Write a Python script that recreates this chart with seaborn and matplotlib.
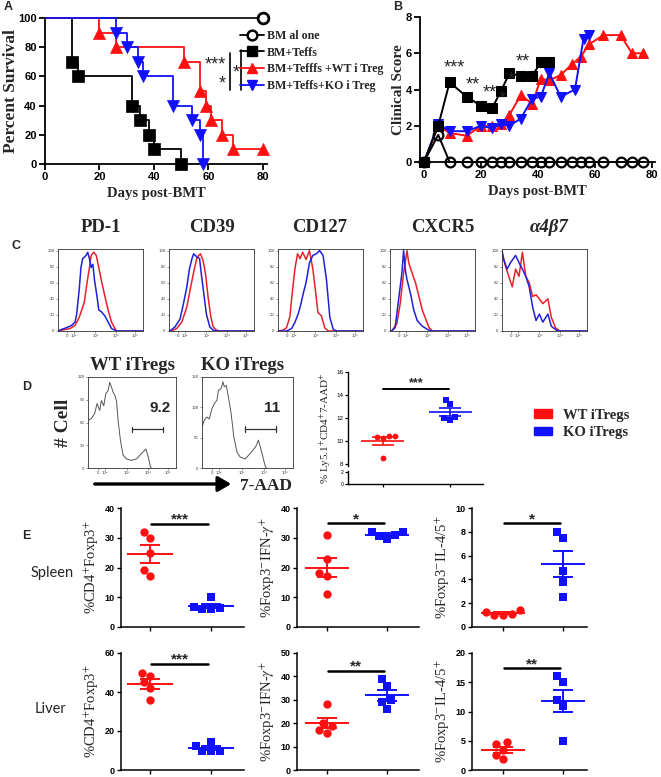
import numpy as np
import pandas as pd
import matplotlib
matplotlib.use('Agg')
import matplotlib.pyplot as plt
from matplotlib.lines import Line2D
from matplotlib.patches import Patch, FancyArrowPatch
import seaborn as sns

# ---------------- DATA ----------------
# Panel A: Kaplan-Meier survival (days, percent)
km_groups = ["BM al one", "BM+Teffs", "BM+Tefffs +WT i Treg", "BM+Teffs+KO i Treg"]
km_bm_t = [0, 80]
km_bm_s = [100, 100]
km_teff_t = [0, 10, 12, 32, 35, 38, 40, 50]
km_teff_s = [100, 70, 60, 40, 30, 20, 10, 0]
km_wt_t = [0, 20, 26, 51, 57, 59, 61, 65, 69, 80]
km_wt_s = [100, 90, 80, 70, 50, 40, 30, 20, 10, 10]
km_ko_t = [0, 26, 30, 34, 36, 47, 54, 57, 58]
km_ko_s = [100, 90, 80, 70, 60, 40, 30, 20, 0]

# Panel B: clinical score
cs_bm_x = [0, 5, 9, 15, 20, 24, 27, 30, 34, 38, 41, 44, 48, 52, 55, 58, 63, 69, 73, 77]
cs_bm_y = [0, 1.5, 0, 0, 0, 0, 0, 0, 0, 0, 0, 0, 0, 0, 0, 0, 0, 0, 0, 0]
cs_teff_x = [0, 5, 9, 15, 20, 24, 27, 30, 34, 38, 41, 44]
cs_teff_y = [0, 2.0, 4.4, 3.6, 3.1, 3.0, 3.9, 4.9, 4.75, 4.75, 5.5, 5.5]
cs_wt_x = [0, 5, 9, 15, 20, 24, 27, 30, 34, 38, 41, 44, 48, 52, 55, 58, 63, 69, 73, 77]
cs_wt_y = [0, 2.0, 1.6, 1.45, 2.0, 2.0, 2.1, 2.6, 3.7, 3.2, 4.6, 4.5, 4.8, 5.4, 5.8, 6.5, 7.0, 7.0, 6.0, 6.0]
cs_ko_x = [0, 5, 9, 15, 20, 24, 27, 30, 34, 38, 41, 44, 48, 53, 56, 58]
cs_ko_y = [0, 2.1, 1.7, 1.7, 2.0, 1.85, 2.1, 2.0, 2.4, 3.5, 3.6, 4.9, 3.6, 4.0, 6.8, 7.0]
b_stars = ["***", "**", "**", "*", "*", "**"]
b_star_x = [10.8, 17.2, 23.0, 27.5, 30.6, 34.7]
b_star_y = [5.2, 4.25, 3.8, 3.5, 4.5, 5.5]

# Panel C: flow histograms (relative channel 0-100, % of max)
c_markers = ["PD-1", "CD39", "CD127", "CXCR5", "α4β7"]
pd1_wt_x = [0, 4, 14, 20, 25, 31, 34, 37, 39, 42, 45, 48, 51, 55, 59, 63, 67, 69, 100]
pd1_wt_y = [0, 1, 3, 7, 17, 36, 59, 79, 94, 98, 94, 79, 63, 44, 26, 11, 3, 0, 0]
pd1_ko_x = [0, 2, 12, 16, 20, 22, 25, 27, 29, 33, 35, 37, 39, 41, 43, 46, 48, 51, 55, 59, 63, 67, 69, 100]
pd1_ko_y = [0, 1, 5, 7, 11, 21, 52, 79, 90, 94, 98, 90, 79, 83, 63, 42, 26, 24, 19, 11, 3, 1, 0, 0]
cd39_wt_x = [0, 3, 9, 15, 21, 25, 29, 33, 37, 40, 43, 46, 49, 52, 56, 60, 100]
cd39_wt_y = [0, 0, 3, 11, 30, 52, 73, 92, 96, 88, 71, 42, 19, 5, 1, 0, 0]
cd39_ko_x = [0, 2, 7, 13, 17, 21, 24, 27, 29, 33, 36, 38, 41, 44, 48, 52, 56, 100]
cd39_ko_y = [0, 1, 5, 15, 34, 55, 77, 90, 96, 92, 90, 71, 46, 21, 5, 1, 0, 0]
cd127_wt_x = [0, 6, 10, 14, 17, 20, 23, 26, 29, 33, 37, 41, 44, 47, 51, 55, 59, 100]
cd127_wt_y = [0, 1, 4, 18, 50, 78, 96, 90, 98, 89, 100, 77, 51, 23, 19, 4, 0, 0]
cd127_ko_x = [0, 10, 16, 20, 24, 27, 30, 33, 37, 41, 45, 49, 53, 57, 61, 65, 69, 100]
cd127_ko_y = [0, 0, 3, 11, 22, 34, 48, 60, 85, 94, 96, 100, 94, 64, 17, 2, 0, 0]
cxcr5_wt_x = [0, 2, 8, 12, 16, 20, 22, 26, 30, 34, 38, 42, 46, 50, 100]
cxcr5_wt_y = [0, 0, 9, 34, 72, 100, 85, 72, 60, 43, 26, 15, 4, 0, 0]
cxcr5_ko_x = [0, 2, 6, 10, 14, 16, 18, 20, 24, 28, 32, 38, 44, 48, 100]
cxcr5_ko_y = [0, 0, 4, 38, 72, 100, 76, 64, 47, 26, 13, 6, 2, 0, 0]
a4b7_wt_x = [0, 4, 8, 12, 16, 20, 24, 28, 32, 36, 40, 44, 48, 54, 58, 63, 68, 100]
a4b7_wt_y = [98, 81, 68, 55, 77, 68, 98, 68, 60, 43, 45, 40, 34, 40, 17, 4, 0, 0]
a4b7_ko_x = [0, 2, 6, 10, 16, 20, 24, 28, 32, 36, 40, 44, 48, 54, 58, 64, 68, 100]
a4b7_ko_y = [100, 89, 77, 85, 94, 85, 77, 68, 55, 30, 13, 21, 11, 21, 6, 1, 0, 0]
flow_tick_pos = [11, 19, 44, 68, 91]
flow_tick_lab = ["0", "10²", "10³", "10⁴", "10⁵"]

# Panel D: 7-AAD histograms
d_titles = ["WT iTregs", "KO iTregs"]
d_wt_x = [0, 3.8, 7.6, 10.3, 13.3, 15.2, 17.9, 20.2, 22.8, 24.7, 26.6, 28.5, 30.4, 32.3, 34.2, 36.9, 39.9, 43.7, 49.4, 55.1, 60.8, 65.8, 68.4, 71.1, 72]
d_wt_y = [63, 65, 72, 85, 76, 89, 82, 98, 102, 113, 107, 100, 96, 89, 63, 36, 17, 12, 10, 12, 19, 25, 15, 1, 0]
d_ko_x = [0, 2.6, 5.5, 8, 11, 13.5, 16.5, 18, 21, 23, 24.5, 26.7, 29, 32, 35, 38.5, 42, 47.6, 53, 59, 62, 66, 69.6, 71]
d_ko_y = [68, 79, 84, 81, 98, 106, 112, 128, 131, 142, 134, 136, 117, 90, 51, 26, 18, 15, 24, 35, 46, 24, 2, 0]
d_gate_pct = ["9.2", "11"]
# Panel D: % Ly5.1+CD4+7-AAD+
d_scatter_wt = [10.4, 10.3, 10.2, 10.4, 8.5]
d_scatter_ko = [13.6, 13.2, 12.0, 11.8, 12.1]

# Panel E
e_labels = ["%CD4$^{+}$Foxp3$^{+}$", "%Foxp3$^{-}$IFN-$\\gamma^{+}$", "%Foxp3$^{-}$IL-4/5$^{+}$"]
spl_cd4_wt = [30, 32, 25, 17, 19]
spl_cd4_ko = [10, 6, 6.2, 6.5, 6.8]
spl_ifn_wt = [31, 23, 18, 17, 11]
spl_ifn_ko = [32, 32, 31, 29.5, 30.5]
spl_il4_wt = [1.4, 1.3, 1.1, 1.0, 1.0]
spl_il4_ko = [8, 7.5, 4.7, 3.8, 2.5]
liv_cd4_wt = [50, 48, 45, 42, 36]
liv_cd4_ko = [14.5, 12.5, 10, 9.5, 9.5]
liv_ifn_wt = [28, 19, 20, 17, 16]
liv_ifn_ko = [39, 36, 30, 29, 26]
liv_il4_wt = [4.8, 4.4, 3.5, 2.6, 1.8]
liv_il4_ko = [16, 15, 12, 11, 5]
e_sig = ["***", "*", "*", "***", "**", "**"]
e_sig_y = [34.6, 34.9, 8.7, 54.4, 42.4, 17.4]
e_ymax = [40, 40, 10, 60, 50, 20]
e_ystep = [10, 10, 2, 20, 10, 5]

# ---------------- STYLE ----------------
W, H = 661, 777
sns.set_theme(style='ticks')
plt.rcParams['font.family'] = ['Liberation Sans', 'DejaVu Sans']
plt.rcParams['mathtext.fontset'] = 'stix'
plt.rcParams['axes.unicode_minus'] = False
SERIF = ['Liberation Serif', 'DejaVu Serif']
RED = '#ff1010'
BLUE = '#1010ff'
HRED = '#e8202a'
HBLUE = '#2020d8'

fig = plt.figure(figsize=(W / 100, H / 100), dpi=100)


def add_ax(l, t, r, b):
    return fig.add_axes([l / W, 1 - b / H, (r - l) / W, (b - t) / H])


def ftext(x, y, s, **kw):
    return fig.text(x / W, 1 - y / H, s, **kw)


def prism(ax, lw=1.3, size=8):
    sns.despine(ax=ax)
    for sp in ['left', 'bottom']:
        ax.spines[sp].set_linewidth(lw)
        ax.spines[sp].set_color('black')
    ax.tick_params(width=lw, length=4, labelsize=size, pad=2, colors='black')
    for lab in ax.get_xticklabels() + ax.get_yticklabels():
        lab.set_fontweight('bold')


# ---------------- PANEL A ----------------
axA = add_ax(45, 18, 267, 164)
series = [(km_teff_t, km_teff_s, 'black', 's'),
          (km_wt_t, km_wt_s, RED, '^'),
          (km_ko_t, km_ko_s, BLUE, 'v')]
sns.lineplot(x=km_bm_t, y=km_bm_s, drawstyle='steps-post', color='black', lw=1.2, ax=axA, clip_on=False)
for t, s, c, mk in series:
    sns.lineplot(x=t, y=s, drawstyle='steps-post', color=c, lw=1.3, ax=axA, clip_on=False)
    sns.scatterplot(x=t[1:], y=s[1:], marker=mk, s=75, color=c, edgecolor=c, linewidth=0.5,
                    ax=axA, clip_on=False, zorder=5)
sns.scatterplot(x=km_bm_t[1:], y=km_bm_s[1:], marker='o', s=60, facecolor='white', edgecolor='black',
                linewidth=2, ax=axA, clip_on=False, zorder=6)
axA.set(xlim=(0, 81.5), ylim=(0, 100), xticks=[0, 20, 40, 60, 80], yticks=[0, 20, 40, 60, 80, 100])
axA.set_xlabel("Days post-BMT", fontsize=10.5, fontweight='bold', family=SERIF, labelpad=3)
axA.set_ylabel("Percent Survival", fontsize=12.5, fontweight='bold', family=SERIF)
axA.yaxis.set_label_coords(-0.115, 0.5)
prism(axA)
handles = [Line2D([], [], color='black', lw=1.3, marker='o', mfc='white', mec='black', mew=1.8, ms=7),
           Line2D([], [], color='black', lw=1.3, marker='s', ms=7),
           Line2D([], [], color=RED, lw=1.3, marker='^', ms=7),
           Line2D([], [], color=BLUE, lw=1.3, marker='v', ms=7)]
axA.legend(handles, km_groups, loc='upper left', bbox_to_anchor=(0.85, 0.96), frameon=False,
           borderpad=0, handlelength=2.0, handletextpad=0.3, labelspacing=0.4,
           prop={'family': SERIF, 'weight': 'bold', 'size': 8.6})
# significance brackets
axA.plot([67.9, 67.9], [50.7, 76], color='black', lw=1.2, clip_on=False)
axA.plot([71.9, 71.9], [50.7, 78], color='black', lw=1.2, clip_on=False)
axA.text(62.4, 67.5, "***", fontsize=13, ha='center', va='center')
axA.text(70.3, 62.0, "*", fontsize=13, ha='center', va='center')
axA.text(65.0, 55.0, "*", fontsize=13, ha='center', va='center')
ftext(8, 7, "A", fontsize=9, fontweight='bold', ha='center', va='center')

# ---------------- PANEL B ----------------
axB = add_ax(420, 17, 655, 162)
sns.lineplot(x=cs_wt_x, y=cs_wt_y, color=RED, marker='^', markersize=7.5, markeredgecolor=RED, lw=1.4, ax=axB, clip_on=False)
sns.lineplot(x=cs_ko_x, y=cs_ko_y, color=BLUE, marker='v', markersize=7.5, markeredgecolor=BLUE, lw=1.4, ax=axB, clip_on=False)
sns.lineplot(x=cs_teff_x, y=cs_teff_y, color='black', marker='s', markersize=7, markeredgecolor='black', lw=1.4, ax=axB, clip_on=False)
sns.lineplot(x=cs_bm_x, y=cs_bm_y, color='black', marker='o', markersize=7, markerfacecolor='none',
             markeredgecolor='black', markeredgewidth=1.6, lw=1.4, ax=axB, clip_on=False)
axB.set(xlim=(-1.4, 81.1), ylim=(0, 8), xticks=[0, 20, 40, 60, 80], yticks=[0, 2, 4, 6, 8])
axB.set_xlabel("Days post-BMT", fontsize=10.5, fontweight='bold', family=SERIF, labelpad=3)
axB.set_ylabel("Clinical Score", fontsize=11, fontweight='bold', family=SERIF)
axB.yaxis.set_label_coords(-0.062, 0.5)
prism(axB)
for s, x, y in zip(b_stars, b_star_x, b_star_y):
    axB.text(x, y, s, fontsize=13, ha='center', va='center')
ftext(398, 7, "B", fontsize=9, fontweight='bold', ha='center', va='center')

# ---------------- PANEL C ----------------
c_data = [(pd1_wt_x, pd1_wt_y, pd1_ko_x, pd1_ko_y),
          (cd39_wt_x, cd39_wt_y, cd39_ko_x, cd39_ko_y),
          (cd127_wt_x, cd127_wt_y, cd127_ko_x, cd127_ko_y),
          (cxcr5_wt_x, cxcr5_wt_y, cxcr5_ko_x, cxcr5_ko_y),
          (a4b7_wt_x, a4b7_wt_y, a4b7_ko_x, a4b7_ko_y)]
c_left = [58, 169, 278, 390, 502]
c_title_x = [101, 212, 320, 443, 549]


def flow_axes(ax, ymax, yticks):
    ax.set(xlim=(0, 100), ylim=(0, ymax * 1.02), xticks=flow_tick_pos, yticks=yticks)
    ax.set_xticklabels(flow_tick_lab)
    ax.set_yticklabels([str(v) for v in yticks])
    ax.tick_params(labelsize=3.2, length=1.5, width=0.4, pad=1, colors='#444')
    for sp in ax.spines.values():
        sp.set_linewidth(0.6)
        sp.set_color('#333')
    ax.set_xlabel('')
    ax.set_ylabel('')


for i, (wx, wy, kx, ky) in enumerate(c_data):
    ax = add_ax(c_left[i], 249, c_left[i] + 85, 331)
    sns.lineplot(x=wx, y=wy, color=HRED, lw=1.1, ax=ax, sort=False)
    sns.lineplot(x=kx, y=ky, color=HBLUE, lw=1.1, ax=ax, sort=False)
    flow_axes(ax, 100, [0, 20, 40, 60, 80, 100])
    style = 'italic' if i == 4 else 'normal'
    ftext(c_title_x[i], 227, c_markers[i], fontsize=13.5, fontweight='bold', family=SERIF,
          style=style, ha='center', va='center')
ftext(16, 246, "C", fontsize=9, fontweight='bold', ha='center', va='center')

# ---------------- PANEL D ----------------
d_boxes = [(88, 176), (202, 293)]
d_hist = [(d_wt_x, d_wt_y, 120, [0, 30, 60, 90, 120], (50, 85), 51, (82, 79)),
          (d_ko_x, d_ko_y, 150, [0, 50, 100, 150], (47, 81), 64, (77, 99))]
d_title_x = [132, 243]
for i, (xs, ys, ymax, yt, gate, gy, (px, py)) in enumerate(d_hist):
    l, r = d_boxes[i]
    ax = add_ax(l, 377, r, 468)
    sns.lineplot(x=xs, y=ys, color='#555555', lw=0.7, ax=ax, sort=False)
    flow_axes(ax, ymax, yt)
    ax.set_ylim(0, ymax)
    ax.plot(gate, [gy, gy], color='#333', lw=0.9)
    ax.plot([gate[0], gate[0]], [gy - ymax * 0.03, gy + ymax * 0.03], color='#333', lw=0.9)
    ax.plot([gate[1], gate[1]], [gy - ymax * 0.03, gy + ymax * 0.03], color='#333', lw=0.9)
    ax.text(px, py, d_gate_pct[i], fontsize=11, fontweight='bold', ha='center', va='center')
    ftext(d_title_x[i], 365, d_titles[i], fontsize=13.5, fontweight='bold', family=SERIF,
          ha='center', va='center')
ftext(63, 423, "# Cell", fontsize=14, fontweight='bold', family=SERIF, rotation=90,
      ha='center', va='center')
fig.add_artist(FancyArrowPatch((92 / W, 1 - 484 / H), (234 / W, 1 - 484 / H), transform=fig.transFigure,
                               arrowstyle='-|>,head_length=6,head_width=3.5', lw=2.4, color='black',
                               mutation_scale=1.3))
ftext(266, 486, "7-AAD", fontsize=12.5, fontweight='bold', family=SERIF, ha='center', va='center')
ftext(27, 387, "D", fontsize=9, fontweight='bold', ha='center', va='center')


def mean_sem(ax, pos, vals, color, half=0.37, shalf=0.17, lw=1.4):
    m = np.mean(vals)
    se = np.std(vals, ddof=1) / np.sqrt(len(vals))
    ax.hlines(m, pos - half, pos + half, color=color, lw=lw, zorder=4)
    ax.hlines([m - se, m + se], pos - shalf, pos + shalf, color=color, lw=lw, zorder=4)
    ax.vlines(pos, m - se, m + se, color=color, lw=lw, zorder=4)


def swarm_pair(ax, wt, ko, size):
    sns.swarmplot(x=['WT'] * len(wt), y=wt, order=['WT', 'KO'], color=RED, marker='o', size=size,
                  linewidth=0, ax=ax, clip_on=False, zorder=3)
    sns.swarmplot(x=['KO'] * len(ko), y=ko, order=['WT', 'KO'], color=BLUE, marker='s', size=size,
                  linewidth=0, ax=ax, clip_on=False, zorder=3)


# D scatter (broken axis)
axDu = add_ax(348, 372, 483, 466)
axDl = add_ax(348, 471, 483, 484)
swarm_pair(axDu, d_scatter_wt, d_scatter_ko, 4.2)
mean_sem(axDu, 0, d_scatter_wt, RED, half=0.32, shalf=0.16, lw=1.2)
mean_sem(axDu, 1, d_scatter_ko, BLUE, half=0.32, shalf=0.16, lw=1.2)
axDu.set(xlim=(-0.52, 1.49), ylim=(7.8, 16), yticks=[8, 10, 12, 14, 16], xticks=[])
axDu.plot([0, 0.98], [14.5, 14.5], color='black', lw=1.4)
axDu.text(0.49, 15.05, "***", fontsize=9, fontweight='bold', ha='center', va='center')
sns.despine(ax=axDu, bottom=True)
axDl.set(xlim=(-0.52, 1.49), ylim=(0, 2.2), yticks=[0, 2], xticks=[0, 1])
axDl.set_xticklabels([])
sns.despine(ax=axDl)
for a in (axDu, axDl):
    a.spines['left'].set_linewidth(1.0)
    a.spines['bottom'].set_linewidth(1.0)
    a.spines['left'].set_color('black')
    a.spines['bottom'].set_color('black')
    a.tick_params(labelsize=4.5, length=2.5, width=0.9, pad=1, colors='black')
    a.set_xlabel('')
    a.set_ylabel('')
axDl.tick_params(axis='y', labelsize=3.8, pad=0.5)
ftext(326, 428, "% Ly5.1$^{+}$CD4$^{+}$7-AAD$^{+}$", fontsize=8, family=SERIF, rotation=90,
      ha='center', va='center')
fig.legend([Patch(facecolor=RED, edgecolor=RED), Patch(facecolor=BLUE, edgecolor=BLUE)], d_titles,
           loc='center left', bbox_to_anchor=(527 / W, 1 - 424 / H), frameon=False,
           handlelength=1.2, handleheight=0.55, handletextpad=0.8, labelspacing=0.3, borderpad=0,
           prop={'family': SERIF, 'weight': 'bold', 'size': 10.5})

# ---------------- PANEL E ----------------
e_data = [(spl_cd4_wt, spl_cd4_ko), (spl_ifn_wt, spl_ifn_ko), (spl_il4_wt, spl_il4_ko),
          (liv_cd4_wt, liv_cd4_ko), (liv_ifn_wt, liv_ifn_ko), (liv_il4_wt, liv_il4_ko)]
e_cols = [(121, 244, (-0.475, 1.54)), (297, 419, (-0.5, 1.53)), (472, 587, (-0.52, 1.4))]
e_rows = [(508, 627), (653, 770)]
for k, (wt, ko) in enumerate(e_data):
    row, col = divmod(k, 3)
    l, r, xl = e_cols[col]
    t, b = e_rows[row]
    ax = add_ax(l, t, r, b)
    swarm_pair(ax, wt, ko, 6)
    mean_sem(ax, 0, wt, RED)
    mean_sem(ax, 1, ko, BLUE)
    ax.set(xlim=xl, ylim=(0, e_ymax[k]), yticks=np.arange(0, e_ymax[k] + 0.1, e_ystep[k]), xticks=[0, 1])
    ax.set_xticklabels([])
    ax.set_yticklabels([str(int(v)) for v in np.arange(0, e_ymax[k] + 0.1, e_ystep[k])])
    sns.despine(ax=ax)
    for sp in ['left', 'bottom']:
        ax.spines[sp].set_linewidth(1.1)
        ax.spines[sp].set_color('black')
    ax.tick_params(labelsize=6.5, length=3, width=1.0, pad=1.5, colors='black')
    for lab in ax.get_yticklabels():
        lab.set_fontweight('bold')
    ax.set_xlabel('')
    ax.set_ylabel(e_labels[col], fontsize=10.5, family=SERIF)
    ax.yaxis.set_label_coords(-20 / (r - l), 0.5)
    ys = e_sig_y[k]
    ax.plot([0.02, 0.95], [ys, ys], color='black', lw=1.8)
    ax.text(0.485, ys + e_ymax[k] * 0.035, e_sig[k], fontsize=11, fontweight='bold', ha='center', va='center')
ftext(26, 536, "E", fontsize=9, fontweight='bold', ha='center', va='center')
ftext(52, 573, "Spleen", fontsize=10.5, family=['Lato', 'Liberation Sans'], ha='center', va='center')
ftext(51, 709, "Liver", fontsize=10.5, family=['Lato', 'Liberation Sans'], ha='center', va='center')

fig.savefig('out.png', dpi=100)
